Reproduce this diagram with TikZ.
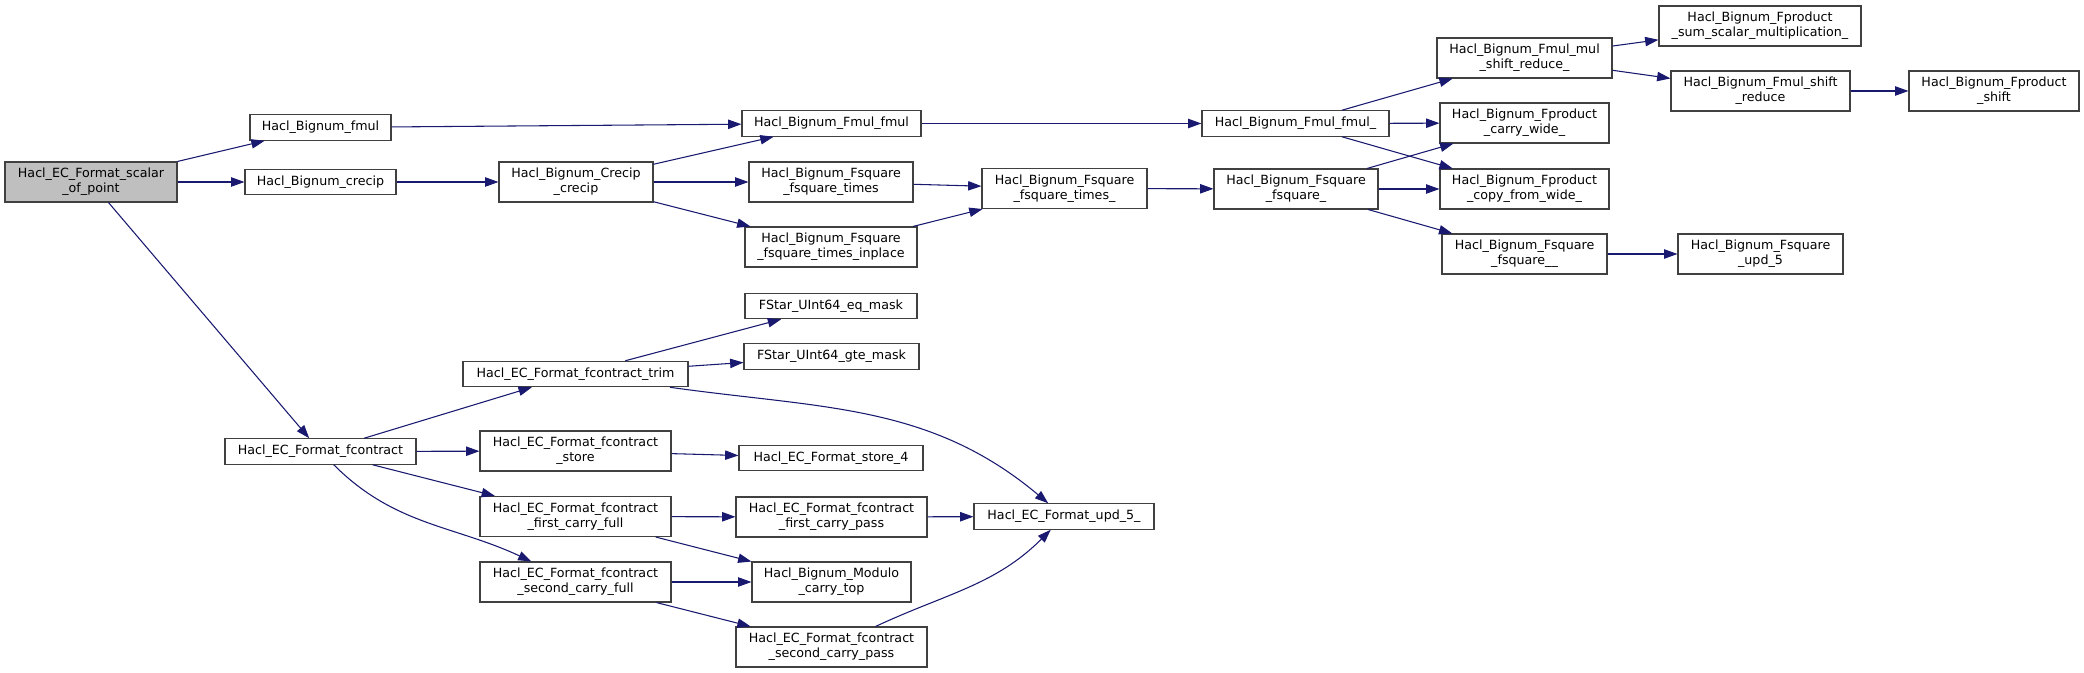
\documentclass[tikz,border=0pt]{standalone}
\usepackage{fontspec}
\setsansfont{DejaVu Sans}
\usepackage{tikz}
\usetikzlibrary{arrows.meta}

\definecolor{edgeblue}{HTML}{191970}
\definecolor{rootgray}{HTML}{BFBFBF}

\begin{document}
\begin{tikzpicture}[
      x=0.75pt,
      y=-0.75pt,
      fn/.style={
        draw=black!75,
        line width=0.8pt,
        fill=white,
        font=\sffamily\fontsize{9.5}{11.25}\selectfont,
        align=center,
        inner xsep=1pt,
        inner ysep=0pt,
        minimum height=19.1pt
      },
      fnn/.style={fn, minimum height=30pt},
      wd/.style={minimum width=#1*0.75pt},
      root/.style={fill=rootgray},
      call/.style={
        -{Triangle[length=10pt,width=7pt]},
        draw=edgeblue,
        line width=0.8pt
      }
    ]
    \useasboundingbox (0,0) rectangle (2084,673);

    \node[fnn,root,wd=172] (scalar) at (91,182) {Hacl\_EC\_Format\_scalar\\\_of\_point};
    \node[fn,wd=141] (fmul) at (320.5,127.5) {Hacl\_Bignum\_fmul};
    \node[fn,wd=151] (crecip) at (320.5,182) {Hacl\_Bignum\_crecip};
    \node[fn,wd=191] (fcontract) at (320.5,451.5) {Hacl\_EC\_Format\_fcontract};

    \node[fn,wd=179] (fmulfmul) at (831.5,123.5) {Hacl\_Bignum\_Fmul\_fmul};
    \node[fnn,wd=154] (crecipcrecip) at (576,182) {Hacl\_Bignum\_Crecip\\\_crecip};
    \node[fnn,wd=164] (sqtimes) at (831,182) {Hacl\_Bignum\_Fsquare\\\_fsquare\_times};
    \node[fnn,wd=172] (sqinplace) at (831,247) {Hacl\_Bignum\_Fsquare\\\_fsquare\_times\_inplace};
    \node[fnn,wd=165] (sqtimesu) at (1064.5,188.5) {Hacl\_Bignum\_Fsquare\\\_fsquare\_times\_};

    \node[fn,wd=187] (fmulfmulu) at (1295.5,123.5) {Hacl\_Bignum\_Fmul\_fmul\_};
    \node[fnn,wd=164] (squ) at (1296,189) {Hacl\_Bignum\_Fsquare\\\_fsquare\_};
    \node[fnn,wd=175] (mulshift) at (1524.5,58) {Hacl\_Bignum\_Fmul\_mul\\\_shift\_reduce\_};
    \node[fnn,wd=169] (carrywide) at (1524.5,123) {Hacl\_Bignum\_Fproduct\\\_carry\_wide\_};
    \node[fnn,wd=169] (copywide) at (1524.5,189) {Hacl\_Bignum\_Fproduct\\\_copy\_from\_wide\_};
    \node[fnn,wd=165] (squu) at (1524.5,254) {Hacl\_Bignum\_Fsquare\\\_fsquare\_\_};

    \node[fnn,wd=202] (sumscalar) at (1760,26) {Hacl\_Bignum\_Fproduct\\\_sum\_scalar\_multiplication\_};
    \node[fnn,wd=179] (shiftreduce) at (1760.5,91) {Hacl\_Bignum\_Fmul\_shift\\\_reduce};
    \node[fnn,wd=170] (pshift) at (1994,91) {Hacl\_Bignum\_Fproduct\\\_shift};
    \node[fnn,wd=165] (squpd) at (1760.5,254) {Hacl\_Bignum\_Fsquare\\\_upd\_5};

    \node[fn,wd=225] (trim) at (575.5,374) {Hacl\_EC\_Format\_fcontract\_trim};
    \node[fnn,wd=191] (store) at (575.5,451) {Hacl\_EC\_Format\_fcontract\\\_store};
    \node[fnn,wd=191] (firstfull) at (575.5,516.5) {Hacl\_EC\_Format\_fcontract\\\_first\_carry\_full};
    \node[fnn,wd=191] (secondfull) at (575.5,582) {Hacl\_EC\_Format\_fcontract\\\_second\_carry\_full};

    \node[fn,wd=172] (eqmask) at (831,306) {FStar\_UInt64\_eq\_mask};
    \node[fn,wd=175] (gtemask) at (831.5,356.5) {FStar\_UInt64\_gte\_mask};
    \node[fn,wd=184] (store4) at (831,458) {Hacl\_EC\_Format\_store\_4};
    \node[fnn,wd=191] (firstpass) at (831.5,517) {Hacl\_EC\_Format\_fcontract\\\_first\_carry\_pass};
    \node[fnn,wd=159] (carrytop) at (831.5,582) {Hacl\_Bignum\_Modulo\\\_carry\_top};
    \node[fnn,wd=191] (secondpass) at (831.5,647) {Hacl\_EC\_Format\_fcontract\\\_second\_carry\_pass};
    \node[fn,wd=180] (upd) at (1064,516.5) {Hacl\_EC\_Format\_upd\_5\_};

    \draw[call] (scalar) -- (fmul);
    \draw[call] (scalar) -- (crecip);
    \draw[call] (scalar) -- (fcontract);

    \draw[call] (fmul) -- (fmulfmul);
    \draw[call] (crecip) -- (crecipcrecip);
    \draw[call] (crecipcrecip) -- (fmulfmul);
    \draw[call] (crecipcrecip) -- (sqtimes);
    \draw[call] (crecipcrecip) -- (sqinplace);
    \draw[call] (sqtimes) -- (sqtimesu);
    \draw[call] (sqinplace) -- (sqtimesu);
    \draw[call] (sqtimesu) -- (squ);
    \draw[call] (fmulfmul) -- (fmulfmulu);

    \draw[call] (fmulfmulu) -- (mulshift);
    \draw[call] (fmulfmulu) -- (carrywide);
    \draw[call] (fmulfmulu) -- (copywide);
    \draw[call] (squ) -- (carrywide);
    \draw[call] (squ) -- (copywide);
    \draw[call] (squ) -- (squu);
    \draw[call] (mulshift) -- (sumscalar);
    \draw[call] (mulshift) -- (shiftreduce);
    \draw[call] (shiftreduce) -- (pshift);
    \draw[call] (squu) -- (squpd);

    \draw[call] (fcontract) -- (trim);
    \draw[call] (fcontract) -- (store);
    \draw[call] (fcontract) -- (firstfull);
    \draw[call] (fcontract) to[out=-45,in=155] (secondfull);
    \draw[call] (trim) -- (eqmask);
    \draw[call] (trim) -- (gtemask);
    \draw[call] (trim) to[out=-8,in=140] (upd);
    \draw[call] (store) -- (store4);
    \draw[call] (firstfull) -- (firstpass);
    \draw[call] (firstfull) -- (carrytop);
    \draw[call] (secondfull) -- (carrytop);
    \draw[call] (secondfull) -- (secondpass);
    \draw[call] (firstpass) -- (upd);
    \draw[call] (secondpass) to[out=25,in=225] (upd);
  \end{tikzpicture}
\end{document}
